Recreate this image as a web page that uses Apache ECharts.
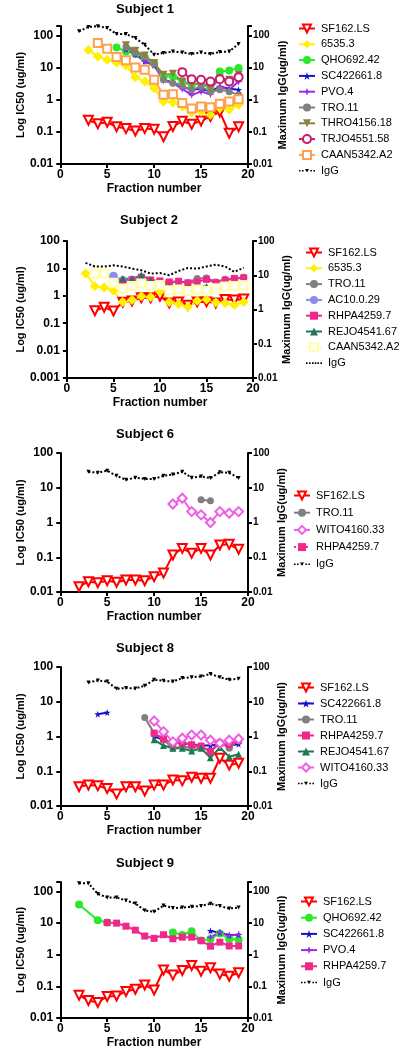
<!DOCTYPE html>
<html><head><meta charset="utf-8">
<script src="https://cdn.jsdelivr.net/npm/echarts@6/dist/echarts.min.js"></script>
<style>html,body{margin:0;padding:0;background:#fff}#main{width:400px;height:1050px}</style>
</head><body><div id="main"></div>
<script>
// ---------------- DATA ----------------
const fractions = [1,2,3,4,5,6,7,8,9,10,11,12,13,14,15,16,17,18,19];
const xTicks = [0,5,10,15,20];
const panelTitles = ['Subject 1','Subject 2','Subject 6','Subject 8','Subject 9'];

// Subject 1
const s1_SF162 = [null,null,0.23,0.18,0.2,0.145,0.127,0.107,0.127,0.121,0.071,0.147,0.215,0.174,0.22,0.30,0.42,0.091,0.145];
const s1_6535  = [null,null,36,22.6,17.8,14.7,11.8,5.1,3.7,2.3,0.89,0.83,0.62,0.40,0.43,0.34,0.55,0.49,0.70];
const s1_QHO   = [null,null,null,null,null,43,32,27,21,14,5.3,5.3,3.7,2.9,3.3,2.6,7.6,8.2,9.8];
const s1_SC422 = [null,null,null,null,null,null,38,27,15.7,12,4.2,3.5,2.6,2.05,2.2,1.8,2.6,2.2,2.05];
const s1_PVO   = [null,null,null,null,null,null,38,25.5,16,12,4.0,3.3,2.2,1.43,1.8,1.5,2.6,2.05,3.7];
const s1_TRO   = [null,null,null,null,null,null,45,30,22,13,4.2,3.3,2.7,2.05,2.6,1.8,2.05,1.8,1.43];
const s1_THRO  = [null,null,null,null,null,null,50,34,24,14,6,6.5,3.7,2.9,3.5,2.2,4.7,4.2,6];
const s1_TRJO  = [null,null,null,null,null,null,null,null,null,null,null,null,7.3,4.4,4.2,3.7,4.4,3.7,5.1];
const s1_CAAN  = [null,null,null,59,39,21.5,17,10.2,8.6,4.2,1.43,1.5,0.79,0.54,0.62,0.59,0.75,0.89,1.05];
const s1_IgG   = [null,136,187,198,173,113,113,84,52,25.5,29,32,30,27,30,27,31,32,55];

// Subject 2
const s2_SF162 = [null,null,0.285,0.38,0.28,0.58,0.65,0.85,0.85,0.97,0.55,0.6,0.45,0.6,0.6,0.55,0.74,0.7,0.76];
const s2_6535  = [null,6.5,2.25,2.0,1.52,0.6,0.7,0.97,0.9,1.4,0.6,0.5,0.4,0.66,0.74,0.57,0.55,0.46,0.6];
const s2_TRO   = [null,null,null,null,null,3.3,3.8,4.2,3.5,3.0,3.0,3.3,3.0,4.3,4.5,3.2,4.0,4.3,4.8];
const s2_AC10  = [null,null,null,null,5.2,3.6,3.8,4.3,3.2,2.5,2.0,null,null,null,null,null,null,null,null];
const s2_RHPA  = [null,null,null,null,null,3.2,3.8,4.8,3.8,3.5,3.2,3.4,2.97,3.2,4.0,3.0,3.7,4.3,4.5];
const s2_REJO  = [null,null,null,null,null,4.3,4.0,5.8,3.7,2.8,2.2,2.2,2.0,2.1,2.2,1.8,2.2,2.4,2.6];
const s2_CAAN  = [null,null,6.5,6.5,3.0,1.85,2.3,2.8,2.3,2.5,1.6,1.7,1.5,1.7,1.5,1.9,2.2,2.3,2.5];
const s2_IgG   = [null,23,18,18,19.5,18,15.6,14,11.2,11.6,10,13.3,16.3,15.6,18,20.4,18,12.5,16.6];

// Subject 6
const s6_SF162 = [null,0.0142,0.0198,0.0185,0.0212,0.019,0.0222,0.0222,0.021,0.0276,0.035,0.116,0.18,0.13,0.18,0.116,0.226,0.235,0.17];
const s6_TRO   = [null,null,null,null,null,null,null,null,null,null,null,null,null,null,4.5,4.2,null,null,null];
const s6_WITO  = [null,null,null,null,null,null,null,null,null,null,null,3.4,5.0,2.06,1.66,1.0,2.06,1.85,2.06];
const s6_RHPA  = [null,null,null,null,null,null,null,null,null,null,null,null,null,null,null,null,null,null,null];
const s6_IgG   = [null,null,29,27,31,22,17,19.5,18,18,22,24,29,19.5,21,19,28,27,19];

// Subject 8
const s8_SF162  = [null,0.036,0.040,0.038,0.032,0.022,0.036,0.036,0.027,0.040,0.040,0.056,0.053,0.067,0.063,0.063,0.237,0.15,0.17];
const s8_SC422a = [null,null,null,4.4,4.9,null,null,null,null,null,null,null,null,null,null,null,null,null,null];
const s8_SC422b = [null,null,null,null,null,null,null,null,null,1.0,0.8,0.7,0.65,0.6,0.55,0.55,0.6,0.55,0.6];
const s8_TRO    = [null,null,null,null,null,null,null,null,3.5,1.25,0.8,0.46,0.5,0.48,0.5,0.37,0.68,0.46,0.8];
const s8_RHPA   = [null,null,null,null,null,null,null,null,null,1.25,0.85,0.64,0.64,0.58,0.53,0.37,0.64,0.58,0.78];
const s8_REJO   = [null,null,null,null,null,null,null,null,null,0.8,0.55,0.46,0.46,0.38,0.46,0.245,0.48,0.26,0.31];
const s8_WITO   = [null,null,null,null,null,null,null,null,null,2.8,1.38,0.7,0.89,1.1,1.1,0.78,0.64,0.78,0.85];
const s8_IgG    = [null,null,36,41,38,23.5,25,24,29,43,40,38,48,51,53,63,51,43,46];

// Subject 9
const s9_SF162 = [null,0.052,0.036,0.031,0.048,0.05,0.069,0.081,0.11,0.077,0.33,0.227,0.32,0.46,0.30,0.39,0.245,0.21,0.27];
const s9_QHOa  = [null,39,null,12.3,10.4,null,null,null,null,null,null,null,null,null,null,null,null,null,null];
const s9_QHOb  = [null,null,null,null,null,null,null,null,null,null,null,5.1,4.2,5.5,2.8,3.15,4.7,3.15,3.0];
const s9_SC422 = [null,null,null,null,null,null,null,null,null,null,null,null,null,null,null,5.7,5.0,4.2,4.3];
const s9_PVO   = [null,null,null,null,null,null,null,null,null,null,null,null,null,null,null,3.6,5.1,4.0,4.4];
const s9_RHPA  = [null,null,null,null,10.4,10,8.0,6.0,3.9,3.3,4.3,3.2,3.6,3.6,2.8,1.87,2.5,1.9,1.9];
const s9_IgG   = [null,183,183,84,65,65,52,42,25,23,36,30,31,33,35,41,35,29,31];

// ---------------- STYLES ----------------
const FONT = 'Liberation Sans, Arial, sans-serif';
const DOWN = 'path://M0,0 L10,0 L5,9 Z';
const UP = 'path://M5,0 L10,9 L0,9 Z';
const STAR5 = 'path://M5,0 L6.2,3.6 L10,3.6 L6.9,5.9 L8.1,9.5 L5,7.3 L1.9,9.5 L3.1,5.9 L0,3.6 L3.8,3.6 Z';
const STAR4 = 'path://M5,0 L6.3,3.7 L10,5 L6.3,6.3 L5,10 L3.7,6.3 L0,5 L3.7,3.7 Z';
// legend icons for the IgG dotted line (box 16x10; corner specks fix the scale)
const BOX = 'M0,0h0.05v0.05h-0.05Z M15.95,9.95h0.05v0.05h-0.05Z ';
const DOTS = 'M0,4.2h1.6v1.6h-1.6Z M3,4.2h1.6v1.6h-1.6Z M11.4,4.2h1.6v1.6h-1.6Z M14.4,4.2h1.6v1.6h-1.6Z ';
const IGG_ICON = 'path://' + BOX + DOTS + 'M6,3.2 L10,3.2 L8,6.8 Z';
const IGG_ICON2 = 'path://' + BOX + DOTS + 'M6,4.2h1.6v1.6h-1.6Z M8.7,4.2h1.6v1.6h-1.6Z';
const STY = {
  SF162: {c:'#FF0000', sym:DOWN, size:9, hollow:true},
  Y6535: {c:'#FFF000', sym:'diamond', size:10},
  QHO:   {c:'#2BE82B', sym:'circle', size:8},
  SC422: {c:'#1414C8', sym:STAR5, size:7},
  PVO:   {c:'#9A2BE8', sym:STAR4, size:8},
  TRO:   {c:'#808080', sym:'circle', size:7},
  THRO:  {c:'#8E7E44', sym:DOWN, size:8},
  TRJO:  {c:'#CC1A6E', sym:'circle', size:8, hollow:true},
  CAAN:  {c:'#FFA050', sym:'rect', size:8, hollow:true},
  CAAN2: {c:'#FFFFA8', sym:'rect', size:8, hollow:true},
  AC10:  {c:'#8C8CF0', sym:'circle', size:9},
  RHPA:  {c:'#F0288C', sym:'rect', size:7},
  REJO:  {c:'#1E7850', sym:UP, size:7},
  WITO:  {c:'#EE5FE6', sym:'diamond', size:9, hollow:true},
  IgG:   {c:'#000000', sym:DOWN, size:4, dotted:true, icon:IGG_ICON},
  IgG2:  {c:'#000000', sym:'none', size:0, dotted:true, icon:IGG_ICON2}
};

// ---------------- LAYOUT ----------------
const panels = [
  {grid:{left:41,top:26,width:207,height:138}, lmin:0.01,lmax:200, rmin:0.01,rmax:200,
   lgap:28, rgap:29, title:{x:145,y:3}, legend:{x:298,y:23,gap:4.8},
   series:[['SF162.LS','SF162',s1_SF162],['6535.3','Y6535',s1_6535],['QHO692.42','QHO',s1_QHO],
           ['SC422661.8','SC422',s1_SC422],['PVO.4','PVO',s1_PVO],['TRO.11','TRO',s1_TRO],
           ['THRO4156.18','THRO',s1_THRO],['TRJO4551.58','TRJO',s1_TRJO],['CAAN5342.A2','CAAN',s1_CAAN],
           ['IgG','IgG',s1_IgG,true]]},
  {grid:{left:46,top:241,width:207,height:137}, lmin:0.001,lmax:100, rmin:0.01,rmax:100,
   lgap:35, rgap:28, title:{x:149,y:214}, legend:{x:305,y:247,gap:4.8},
   series:[['SF162.LS','SF162',s2_SF162],['6535.3','Y6535',s2_6535],['TRO.11','TRO',s2_TRO],
           ['AC10.0.29','AC10',s2_AC10],['RHPA4259.7','RHPA',s2_RHPA],['REJO4541.67','REJO',s2_REJO],
           ['CAAN5342.A2','CAAN2',s2_CAAN],['IgG','IgG2',s2_IgG,true]]},
  {grid:{left:41,top:453,width:207,height:139}, lmin:0.01,lmax:100, rmin:0.01,rmax:100,
   lgap:29, rgap:24, title:{x:145,y:428}, legend:{x:293,y:490,gap:6.2},
   series:[['SF162.LS','SF162',s6_SF162],['TRO.11','TRO',s6_TRO],['WITO4160.33','WITO',s6_WITO],
           ['RHPA4259.7','RHPA',s6_RHPA,false,true],['IgG','IgG',s6_IgG,true]]},
  {grid:{left:41,top:667,width:207,height:139}, lmin:0.01,lmax:100, rmin:0.01,rmax:100,
   lgap:29, rgap:23, title:{x:145,y:642}, legend:{x:297,y:682,gap:5},
   series:[['SF162.LS','SF162',s8_SF162],['SC422661.8','SC422',s8_SC422a],['SC422661.8','SC422',s8_SC422b],
           ['TRO.11','TRO',s8_TRO],['RHPA4259.7','RHPA',s8_RHPA],['REJO4541.67','REJO',s8_REJO],
           ['WITO4160.33','WITO',s8_WITO],['IgG','IgG',s8_IgG,true]]},
  {grid:{left:41,top:882,width:207,height:138}, lmin:0.01,lmax:200, rmin:0.01,rmax:200,
   lgap:29, rgap:28, title:{x:145,y:857}, legend:{x:300,y:896,gap:5.2},
   series:[['SF162.LS','SF162',s9_SF162],['QHO692.42','QHO',s9_QHOa],['QHO692.42','QHO',s9_QHOb],
           ['SC422661.8','SC422',s9_SC422],['PVO.4','PVO',s9_PVO],['RHPA4259.7','RHPA',s9_RHPA],
           ['IgG','IgG',s9_IgG,true]]}
];

const LOGLAB = {'-3':'0.001','-2':'0.01','-1':'0.1','0':'1','1':'10','2':'100'};
function logFmt(v){ const l = Math.log10(v); const r = Math.round(l); return Math.abs(l - r) < 1e-6 ? (LOGLAB[r] || '') : ''; }
function pts(arr){ const out = []; arr.forEach((v,i) => { if (v != null) out.push([fractions[i], v]); }); return out; }

const axLine = {show:true, onZero:false, lineStyle:{color:'#000', width:2}};
const axTick = {show:true, length:4, lineStyle:{color:'#000', width:2}};
const grids = [], xAxes = [], yAxes = [], series = [], legends = [], titles = [];

panels.forEach((p, i) => {
  grids.push(Object.assign({containLabel:false}, p.grid));
  xAxes.push({type:'value', gridIndex:i, min:0, max:20, interval:5,
    axisLine:axLine, axisTick:axTick, splitLine:{show:false},
    axisLabel:{margin:5, fontSize:12, fontWeight:'bold', color:'#000', fontFamily:FONT,
      formatter: v => xTicks.includes(v) ? String(v) : ''},
    name:'Fraction number', nameLocation:'middle', nameGap:19,
    nameTextStyle:{fontSize:12, fontWeight:'bold', color:'#000', fontFamily:FONT}});
  yAxes.push({type:'log', logBase:10, gridIndex:i, position:'left', min:p.lmin, max:p.lmax,
    axisLine:axLine, axisTick:axTick, splitLine:{show:false}, minorTick:{show:false},
    axisLabel:{margin:7, fontSize:12, fontWeight:'bold', color:'#000', fontFamily:FONT, formatter:logFmt},
    name:'Log IC50 (ug/ml)', nameLocation:'middle', nameRotate:90, nameGap:p.lgap,
    nameTextStyle:{fontSize:11, fontWeight:'bold', color:'#000', fontFamily:FONT}});
  yAxes.push({type:'log', logBase:10, gridIndex:i, position:'right', min:p.rmin, max:p.rmax,
    axisLine:axLine, axisTick:axTick, splitLine:{show:false}, minorTick:{show:false},
    axisLabel:{margin:5, fontSize:10, fontWeight:'bold', color:'#000', fontFamily:FONT, formatter:logFmt},
    name:'Maximum IgG(ug/ml)', nameLocation:'middle', nameRotate:90, nameGap:p.rgap,
    nameTextStyle:{fontSize:11, fontWeight:'bold', color:'#000', fontFamily:FONT}});
  titles.push({text:panelTitles[i], left:p.title.x, top:p.title.y, textAlign:'center', padding:0,
    textStyle:{fontSize:13, fontWeight:'bold', color:'#000', fontFamily:FONT}});
  const names = [];
  p.series.forEach(([label, key, arr, right, dotted]) => {
    const s = STY[key];
    const name = i + '|' + label;
    if (!names.find(n => n.name === name)) names.push(s.icon ? {name, icon:s.icon} : {name});
    series.push({type:'line', name, xAxisIndex:i, yAxisIndex: right ? 2*i+1 : 2*i,
      data: pts(arr), symbol: s.sym, symbolSize: s.size, showSymbol: s.sym !== 'none',
      lineStyle:{color:s.c, width:2, type: (s.dotted || dotted) ? 'dotted' : 'solid'},
      itemStyle:{color: s.hollow ? '#fff' : s.c, borderColor: s.c, borderWidth: s.hollow ? 2 : 0},
      emphasis:{disabled:true}, animation:false, z: right ? 4 : 3});
  });
  legends.push({orient:'vertical', left:p.legend.x, top:p.legend.y, itemGap:p.legend.gap, padding:0,
    itemWidth:16, itemHeight:10, selectedMode:false, data:names,
    formatter: n => n.split('|')[1],
    textStyle:{fontSize:11, color:'#000', fontFamily:FONT, padding:[0,0,0,1]}});
});

const chart = echarts.init(document.getElementById('main'), null, {renderer:'canvas'});
chart.setOption({backgroundColor:'#fff', animation:false, title:titles, grid:grids,
  xAxis:xAxes, yAxis:yAxes, series, legend:legends, tooltip:{show:false}});
</script></body></html>
